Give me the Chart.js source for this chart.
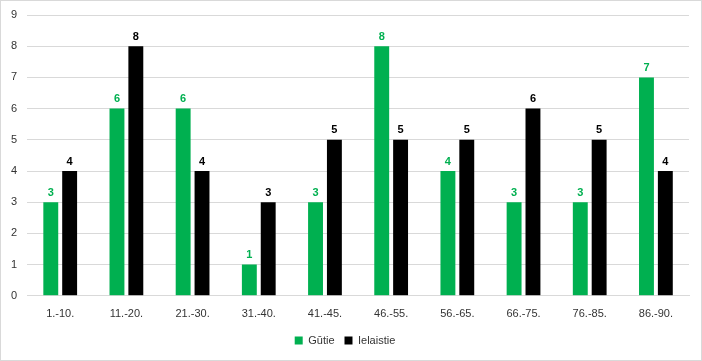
<!DOCTYPE html>
<html><head><meta charset="utf-8">
<script src="https://cdn.jsdelivr.net/npm/chart.js@4"></script>
<style>
html,body{margin:0;padding:0;background:#fff;}
#wrap{position:relative;width:700px;height:359px;border:1px solid #d9d9d9;}
</style></head><body>
<div id="wrap"><canvas id="c" width="700" height="359"></canvas></div>
<script>
const categories = ["1.-10.","11.-20.","21.-30.","31.-40.","41.-45.","46.-55.","56.-65.","66.-75.","76.-85.","86.-90."];
const gutie = [3,6,6,1,3,8,4,3,3,7];
const ielaistie = [4,8,4,3,5,5,5,6,5,4];
const yTicks = [0,1,2,3,4,5,6,7,8,9];

const labelPlugin = {
  id:'labels',
  afterDatasetsDraw(chart){
    const ctx = chart.ctx;
    chart.data.datasets.forEach((ds,i)=>{
      const meta = chart.getDatasetMeta(i);
      meta.data.forEach((bar,j)=>{
        ctx.save();
        ctx.font = 'bold 11px "Liberation Sans", Arial, sans-serif';
        ctx.fillStyle = ds.labelColor;
        ctx.textAlign='center';
        ctx.textBaseline='bottom';
        ctx.fillText(String(ds.data[j]), bar.x, bar.y-4);
        ctx.restore();
      });
    });
  }
};

new Chart(document.getElementById('c'),{
  type:'bar',
  data:{labels:categories,datasets:[
    {label:'Gūtie',data:gutie,backgroundColor:'#00B050',labelColor:'#00B050',barPercentage:0.79,categoryPercentage:0.57},
    {label:'Ielaistie',data:ielaistie,backgroundColor:'#000000',labelColor:'#000000',barPercentage:0.79,categoryPercentage:0.57}
  ]},
  options:{
    responsive:false,animation:false,
    layout:{padding:{left:0,right:12,top:14,bottom:4}},
    plugins:{
      legend:{position:'bottom',labels:{boxWidth:8,boxHeight:8,font:{size:11,family:'"Liberation Sans", Arial, sans-serif'},color:'#333',padding:10}},
      tooltip:{enabled:false}
    },
    scales:{
      x:{grid:{display:false},border:{color:'#d9d9d9'},ticks:{color:'#333',padding:4,font:{size:11,family:'"Liberation Sans", Arial, sans-serif'}}},
      y:{min:0,max:9,afterBuildTicks(a){a.ticks=yTicks.map(v=>({value:v}));},
         afterFit(s){s.paddingTop=0;},
         grid:{color:'#d9d9d9',drawTicks:false},border:{display:false},
         ticks:{color:'#333',padding:10,font:{size:11,family:'"Liberation Sans", Arial, sans-serif'}}}
    }
  },
  plugins:[labelPlugin]
});
</script></body></html>
